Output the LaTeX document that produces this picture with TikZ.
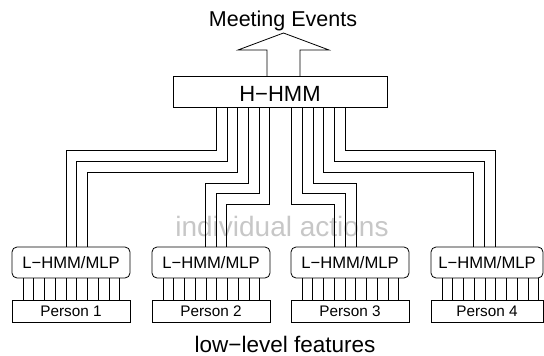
\documentclass[tikz,border=0pt]{standalone}
\usepackage{fontspec}
\setmainfont{Liberation Sans}
\usetikzlibrary{calc}
\begin{document}
\begin{tikzpicture}[x=1pt,y=-1pt,line width=0.8pt,line join=miter,
  hbox/.style={draw,minimum width=214pt,minimum height=31pt,inner sep=0pt,outer sep=0pt,
    font=\fontsize{22}{24}\selectfont,text height=20.4pt,text depth=0pt},
  lbox/.style={draw,rounded corners=5pt,minimum height=31pt,inner sep=0pt,outer sep=0pt,
    font=\fontsize{16.6}{18}\selectfont},
  pbox/.style={draw,minimum height=22pt,inner sep=0pt,outer sep=0pt,
    font=\fontsize{15.3}{17}\selectfont},
  wire/.style={line width=0.8pt},
  caption/.style={anchor=base,inner sep=0pt}]
\useasboundingbox (0,0) rectangle (544,356);

% top box
\node[hbox] (hhmm) at (280,91.5) {H−HMM};

% lower boxes
\node[lbox,minimum width=118pt] (l1) at (71,262.5) {L−HMM/MLP};
\node[lbox,minimum width=118pt] (l2) at (211,262.5) {L−HMM/MLP};
\node[lbox,minimum width=118pt] (l3) at (350,262.5) {L−HMM/MLP};
\node[lbox,minimum width=112pt] (l4) at (487,262.5) {L−HMM/MLP};

\node[pbox,minimum width=118pt] (p1) at (71,311) {Person 1};
\node[pbox,minimum width=118pt] (p2) at (211,311) {Person 2};
\node[pbox,minimum width=118pt] (p3) at (350,311) {Person 3};
\node[pbox,minimum width=112pt] (p4) at (487,311) {Person 4};

% texts
\node[caption,font=\fontsize{28}{30}\selectfont,text=black!22] (ia) at (282,236) {individual actions};
\node[caption,font=\fontsize{21.5}{24}\selectfont] (me) at (283,27) {Meeting Events};
\node[caption,font=\fontsize{22.5}{24}\selectfont] (llf) at (285,352) {low−level features};

% feature lines
\foreach \b in {1,2,3,4}{
  \foreach \i in {0,...,9}{
    \draw[wire] ($(l\b.south west)+({11+10.75*\i},0)$) -- ($(p\b.north west)+({11+10.75*\i},0)$);
  }
}

% wires from H-HMM
\foreach \dx/\ty/\bx/\b in {43/150/66/1, 54/161/76/1, 64/172/87/1,
                            75/183/205/2, 86/193/216/2, 96/204/226/2,
                            118/204/334/3, 129/193/345/3, 140/183/356/3,
                            150/172/473/4, 161/161/484/4, 172/150/495/4}{
  \draw[wire] ($(hhmm.south west)+(\dx,0)$) |- (\bx,\ty) -- (\bx,\ty |- l\b.north);
}

% output arrow
\draw[wire] (hhmm.north -| 267,0) -- (267,50) -- (238,50) -- (283.5,33) -- (329,50) -- (300,50) -- (hhmm.north -| 300,0);
\end{tikzpicture}
\end{document}
